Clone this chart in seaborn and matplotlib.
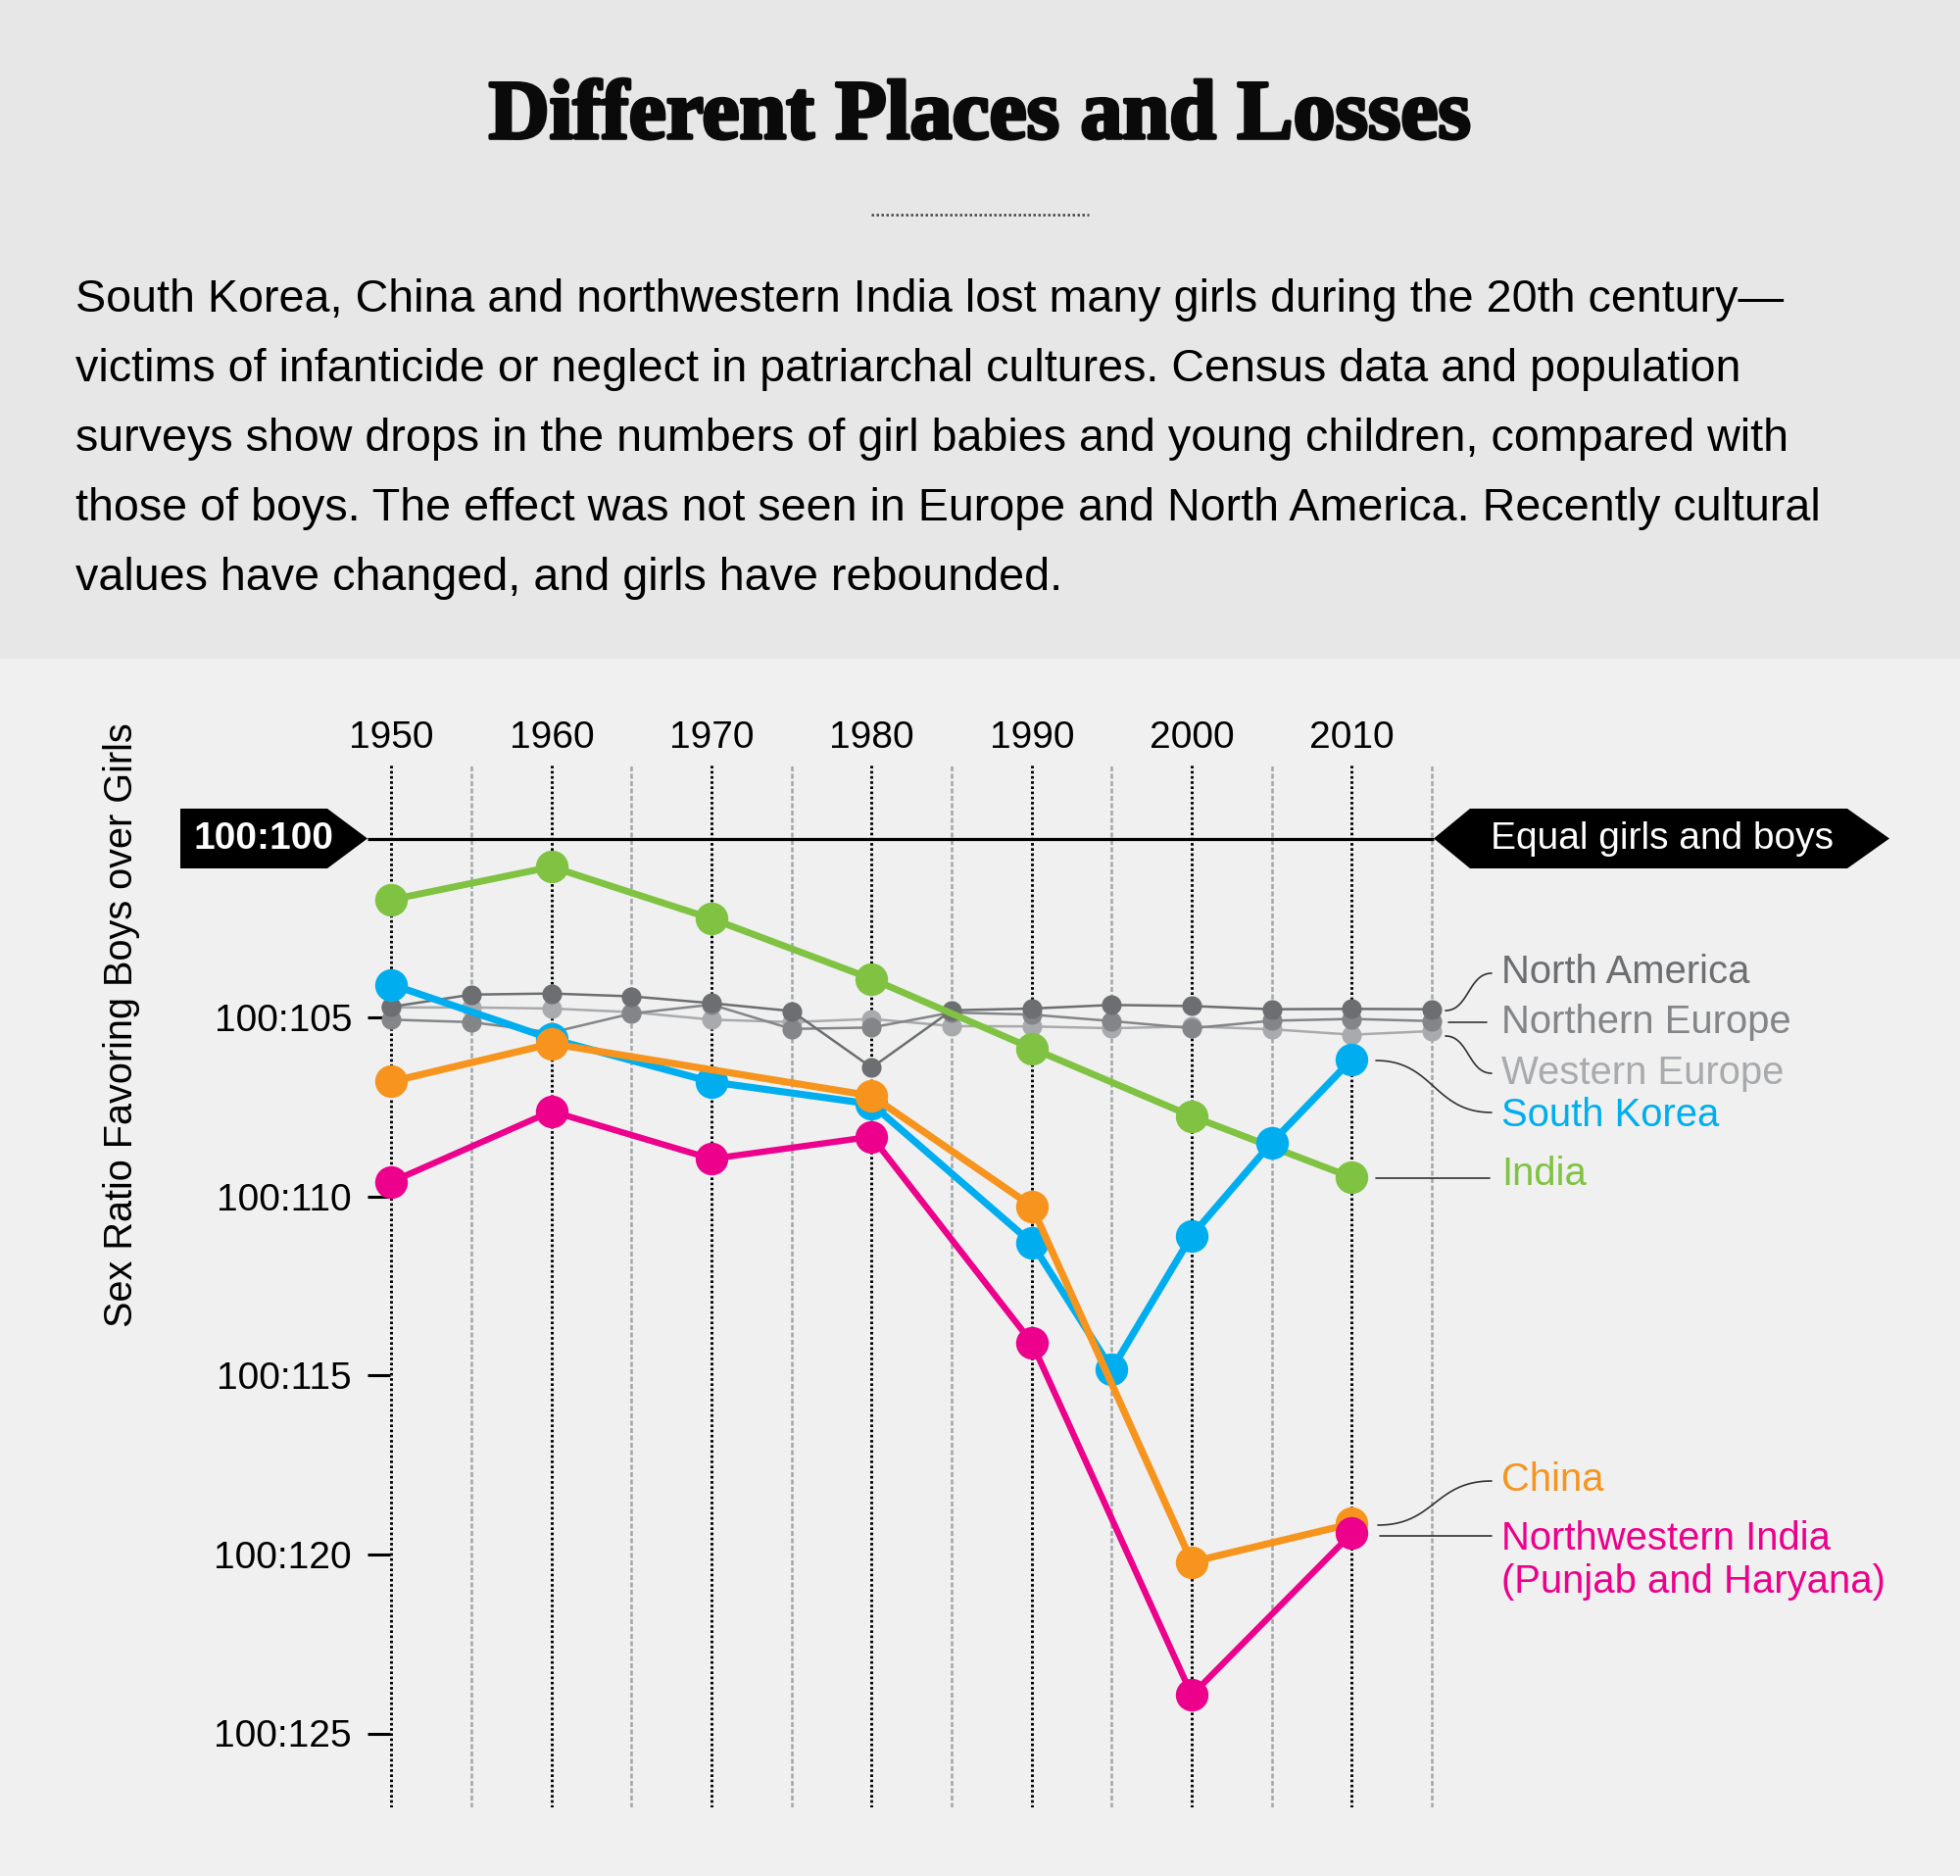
import numpy as np
import pandas as pd
import matplotlib
matplotlib.use("Agg")
import matplotlib.pyplot as plt
import matplotlib.patheffects as pe
from matplotlib.patches import Polygon, Rectangle
from matplotlib.lines import Line2D
import seaborn as sns

# ---------------- data ----------------
years_5 = [1950, 1955, 1960, 1965, 1970, 1975, 1980, 1985, 1990, 1995, 2000, 2005, 2010, 2015]
north_america = [104.70, 104.36, 104.33, 104.41, 104.60, 104.82, 106.40, 104.80, 104.75, 104.65, 104.68, 104.77, 104.76, 104.77]
northern_europe = [105.06, 105.13, 105.42, 104.89, 104.64, 105.32, 105.28, 104.86, 104.92, 105.10, 105.30, 105.09, 105.04, 105.10]
western_europe = [104.72, 104.72, 104.75, 104.85, 105.06, 105.13, 105.04, 105.24, 105.25, 105.30, 105.25, 105.33, 105.48, 105.38]

india_years = [1950, 1960, 1970, 1980, 1990, 2000, 2010]
india = [101.71, 100.79, 102.24, 103.92, 105.86, 107.76, 109.47]

sk_years = [1950, 1960, 1970, 1980, 1990, 1995, 2000, 2005, 2010]
south_korea = [104.08, 105.60, 106.80, 107.42, 111.30, 114.83, 111.09, 108.49, 106.17]

china_years = [1950, 1960, 1980, 1990, 2000, 2010]
china = [106.79, 105.73, 107.19, 110.27, 120.21, 119.14]

nwi_years = [1950, 1960, 1970, 1980, 1990, 2000, 2010]
nw_india = [109.59, 107.62, 108.95, 108.33, 114.08, 123.93, 119.41]

decade_ticks = [1950, 1960, 1970, 1980, 1990, 2000, 2010]
half_ticks = [1955, 1965, 1975, 1985, 1995, 2005, 2015]
y_ticks = [105, 110, 115, 120, 125]
y_tick_labels = ["100:105", "100:110", "100:115", "100:120", "100:125"]

title = "Different Places and Losses"
body_lines = [
    "South Korea, China and northwestern India lost many girls during the 20th century\u2014",
    "victims of infanticide or neglect in patriarchal cultures. Census data and population",
    "surveys show drops in the numbers of girl babies and young children, compared with",
    "those of boys. The effect was not seen in Europe and North America. Recently cultural",
    "values have changed, and girls have rebounded.",
]

C_NA = "#6d6e71"
C_NE = "#838588"
C_WE = "#a8aaad"
C_IN = "#80c242"
C_SK = "#00aeef"
C_CN = "#f7941d"
C_NW = "#ec008c"

# ---------------- figure ----------------
sns.set_theme(style="white")
plt.rcParams["font.family"] = ["Liberation Sans", "DejaVu Sans"]

W, H = 2000, 1914
fig = plt.figure(figsize=(W / 100, H / 100), dpi=100)
fig.patch.set_facecolor("#eff0ef")


def fx(px):
    return px / W


def fy(py):
    return 1 - py / H


# header band
fig.patches.append(Rectangle((0, fy(672)), 1, 1 - fy(672), transform=fig.transFigure,
                             facecolor="#e6e7e6", edgecolor="none", zorder=0))

fig.text(fx(1000), fy(141), title, ha="center", va="baseline",
         fontsize=61.8, fontweight="bold", family=["Liberation Serif", "DejaVu Serif"], color="#0a0a0a",
         path_effects=[pe.withStroke(linewidth=2.6, foreground="#0a0a0a")])
fig.lines.append(Line2D([fx(889), fx(1111)], [fy(219), fy(219)], transform=fig.transFigure,
                        color="#444444", lw=1.8, linestyle=(0, (1, 1))))

for i, line in enumerate(body_lines):
    fig.text(fx(77), fy(318 + 71 * i), line, ha="left", va="baseline",
             fontsize=33.6, color="#000000")

# axes mapping: 1950 -> 399.5 px, 16.333 px/year ; 100 -> 855.5 px, 36.52 px/unit
ax_left, ax_right, ax_top, ax_bot = 398, 1990, 780, 1844
px_per_year = 16.333
px_per_unit = 36.52
xlim = (1950 + (ax_left - 399.5) / px_per_year, 1950 + (ax_right - 399.5) / px_per_year)
ylim = (100 + (ax_bot - 855.5) / px_per_unit, 100 + (ax_top - 855.5) / px_per_unit)

ax = fig.add_axes([fx(ax_left), fy(ax_bot), (ax_right - ax_left) / W, (ax_bot - ax_top) / H])
ax.set_facecolor("none")
ax.set_xlim(*xlim)
ax.set_ylim(*ylim)
for s in ax.spines.values():
    s.set_visible(False)

# vertical grid
for yr in decade_ticks:
    ax.axvline(yr, color="#000000", lw=2.1, linestyle=(0, (0.9, 0.9)), zorder=1)
for yr in half_ticks:
    ax.axvline(yr, color="#a3a5a8", lw=1.8, linestyle=(0, (2, 1)), zorder=1)

# 100:100 reference line
ax.hlines(100, 1950 + (375 - 399.5) / px_per_year, 1950 + (1463 - 399.5) / px_per_year,
          color="black", lw=2.3, zorder=2, clip_on=False)

# gray series
for yrs, vals, col, z in [(years_5, western_europe, C_WE, 3),
                          (years_5, northern_europe, C_NE, 4),
                          (years_5, north_america, C_NA, 5)]:
    sns.lineplot(x=yrs, y=vals, ax=ax, color=col, linewidth=1.8, marker="o",
                 markersize=14.5, markeredgewidth=0, sort=False, zorder=z, clip_on=False)

# colored series
for yrs, vals, col, lw, z in [(india_years, india, C_IN, 5, 6),
                              (sk_years, south_korea, C_SK, 5.2, 7),
                              (china_years, china, C_CN, 5.2, 8),
                              (nwi_years, nw_india, C_NW, 4.6, 9)]:
    sns.lineplot(x=yrs, y=vals, ax=ax, color=col, linewidth=lw, marker="o",
                 markersize=24, markeredgewidth=0, sort=False, zorder=z, clip_on=False)

# ticks
ax.xaxis.set_ticks_position("top")
ax.set_xticks(decade_ticks)
ax.set_xticklabels([str(y) for y in decade_ticks])
ax.tick_params(axis="x", which="both", length=0, pad=6.5, labelsize=28, labelcolor="#000000",
               top=True, bottom=False, labeltop=True, labelbottom=False)
ax.set_yticks(y_ticks)
ax.set_yticklabels(y_tick_labels)
ax.tick_params(axis="y", which="both", direction="out", length=16.5, width=2.2, color="black",
               pad=11.5, labelsize=28, labelcolor="#000000", left=True)
ax.set_xlabel("")
ax.set_ylabel("")

fig.text(fx(124), fy(1046), "Sex Ratio Favoring Boys over Girls", rotation=90,
         ha="center", va="center", fontsize=28.5, color="#000000")

# tags
fig.patches.append(Polygon([(fx(184), fy(825)), (fx(334), fy(825)), (fx(375), fy(855.5)),
                            (fx(334), fy(886)), (fx(184), fy(886))], closed=True,
                           transform=fig.transFigure, facecolor="black", edgecolor="none", zorder=3))
fig.text(fx(269), fy(856), "100:100", ha="center", va="center", fontsize=28,
         fontweight="bold", color="white", zorder=4)
fig.patches.append(Polygon([(fx(1463), fy(855.5)), (fx(1500), fy(825)), (fx(1885), fy(825)),
                            (fx(1928), fy(855.5)), (fx(1885), fy(886)), (fx(1500), fy(886))],
                           closed=True, transform=fig.transFigure, facecolor="black",
                           edgecolor="none", zorder=3))
fig.text(fx(1696), fy(856), "Equal girls and boys", ha="center", va="center", fontsize=28,
         color="white", zorder=4)

# labels and leaders
labels = [
    ("North America", C_NA, 992, (1475, 1031), (1522, 993)),
    ("Northern Europe", C_NE, 1043, (1478, 1043), (1517, 1043)),
    ("Western Europe", C_WE, 1095, (1475, 1057), (1522, 1095)),
    ("South Korea", C_SK, 1138, (1404, 1082), (1522, 1135)),
    ("India", C_IN, 1198, (1404, 1202), (1520, 1202)),
    ("China", C_CN, 1510, (1406, 1556), (1522, 1511)),
    ("Northwestern India\n(Punjab and Haryana)", C_NW, 1592, (1408, 1567), (1522, 1567)),
]
t = np.linspace(0, 1, 60)
for txt, col, ty, p0, p1 in labels:
    fig.text(fx(1532), fy(ty), txt, ha="left", va="center", fontsize=28.8, color=col,
             linespacing=1.2)
    (x0, y0), (x1, y1) = p0, p1
    dx = x1 - x0
    c0 = (x0 + 0.5 * dx, y0)
    c1 = (x1 - 0.5 * dx, y1)
    bx = (1 - t) ** 3 * x0 + 3 * (1 - t) ** 2 * t * c0[0] + 3 * (1 - t) * t ** 2 * c1[0] + t ** 3 * x1
    by = (1 - t) ** 3 * y0 + 3 * (1 - t) ** 2 * t * c0[1] + 3 * (1 - t) * t ** 2 * c1[1] + t ** 3 * y1
    fig.lines.append(Line2D(fx(bx), fy(by), transform=fig.transFigure, color="#333333", lw=1.2))

fig.savefig("out.png", dpi=100, facecolor=fig.get_facecolor())
